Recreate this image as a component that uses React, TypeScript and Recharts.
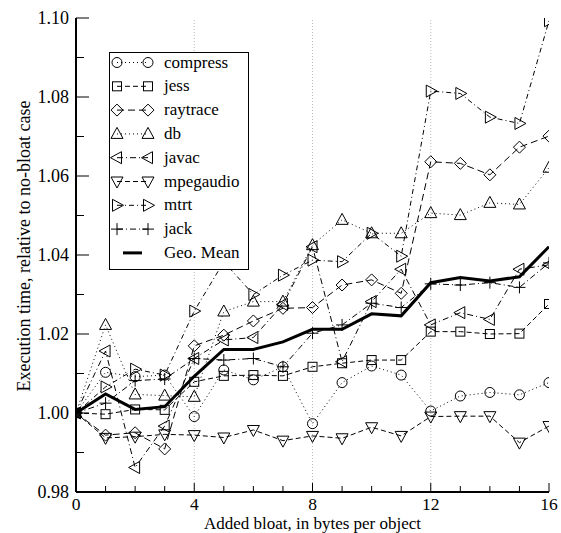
import React from 'react';
import { LineChart, Line, XAxis, YAxis, ReferenceLine } from 'recharts';

const xValues = [0, 1, 2, 3, 4, 5, 6, 7, 8, 9, 10, 11, 12, 13, 14, 15, 16];
const compress = [1.0, 1.0103, 1.0092, 1.0096, 0.9991, 1.0109, 1.0084, 1.0117, 0.9973, 1.0077, 1.0119, 1.0096, 1.0005, 1.0043, 1.0052, 1.0046, 1.0077];
const jess = [1.0, 0.9997, 1.0009, 1.0008, 1.0079, 1.0094, 1.0096, 1.0094, 1.0117, 1.0126, 1.0134, 1.0134, 1.0206, 1.0206, 1.02, 1.0201, 1.0276];
const raytrace = [1.0, 0.9944, 0.995, 0.9909, 1.017, 1.0197, 1.0233, 1.0265, 1.0267, 1.0324, 1.0337, 1.0303, 1.0636, 1.0632, 1.0603, 1.0673, 1.0701];
const db = [1.0, 1.0223, 1.0047, 1.0044, 1.0041, 1.0257, 1.0282, 1.0282, 1.0425, 1.0489, 1.0455, 1.0455, 1.0506, 1.0501, 1.0532, 1.0528, 1.0621];
const javac = [1.0, 1.0157, 0.9862, 0.9967, 1.0138, 1.0185, 1.0191, 1.0275, 1.0421, 1.013, 1.0282, 1.0364, 1.0223, 1.0254, 1.0237, 1.0364, 1.0375];
const mpegaudio = [1.0, 0.9937, 0.994, 0.9946, 0.9944, 0.9938, 0.9957, 0.993, 0.9942, 0.9936, 0.9964, 0.9942, 0.9991, 0.9992, 0.9992, 0.9925, 0.9967];
const mtrt = [1.0, 1.0066, 1.0111, 1.0096, 1.0258, 1.0383, 1.03, 1.0349, 1.0387, 1.0383, 1.0455, 1.0397, 1.0815, 1.0809, 1.0749, 1.0733, 1.0993];
const jack = [1.0, 1.0025, 1.0082, 1.0086, 1.0138, 1.0134, 1.0138, 1.0117, 1.0202, 1.0223, 1.0278, 1.0267, 1.0327, 1.0324, 1.033, 1.0318, 1.038];
const geoMean = [1.0, 1.0048, 1.0009, 1.0016, 1.0093, 1.0161, 1.0161, 1.018, 1.0212, 1.0212, 1.0251, 1.0246, 1.033, 1.0343, 1.0334, 1.0345, 1.0421];

const seriesNames = ['compress', 'jess', 'raytrace', 'db', 'javac', 'mpegaudio', 'mtrt', 'jack', 'Geo. Mean'];
const seriesValues = [compress, jess, raytrace, db, javac, mpegaudio, mtrt, jack, geoMean];

const xTicks = [0, 1, 2, 3, 4, 5, 6, 7, 8, 9, 10, 11, 12, 13, 14, 15, 16];
const xLabeledTicks = [0, 4, 8, 12, 16];
const xGridLines = [4, 8, 12];
const yTicks = [0.98, 0.99, 1.0, 1.01, 1.02, 1.03, 1.04, 1.05, 1.06, 1.07, 1.08, 1.09, 1.1];
const yLabeledTicks = ['0.98', '1.00', '1.02', '1.04', '1.06', '1.08', '1.10'];

const xTitle = 'Added bloat, in bytes per object';
const yTitle = 'Execution time, relative to no-bloat case';

const styles: Record<string, { shape: string; dash: string; width: number }> = {
  compress: { shape: 'circle', dash: '1 3', width: 1 },
  jess: { shape: 'square', dash: '5 3', width: 1 },
  raytrace: { shape: 'diamond', dash: '7 4', width: 1 },
  db: { shape: 'up', dash: '1 3', width: 1 },
  javac: { shape: 'left', dash: '6 3 1 3', width: 1 },
  mpegaudio: { shape: 'down', dash: '5 3', width: 1 },
  mtrt: { shape: 'right', dash: '5 3 1 3', width: 1 },
  jack: { shape: 'plus', dash: '6 3 1 3', width: 1 },
  'Geo. Mean': { shape: 'none', dash: '', width: 3 },
};

const data = xValues.map((x, i) => {
  const row: Record<string, number> = { x };
  seriesNames.forEach((n, k) => {
    row[n] = seriesValues[k][i];
  });
  return row;
});

const FONT = "'Liberation Serif', 'Times New Roman', 'DejaVu Serif', serif";
const textStyle = { fontFamily: FONT };

function Marker({ kind, cx, cy }: { kind: string; cx: number; cy: number }) {
  const p = { fill: 'none', stroke: '#000', strokeWidth: 1 };
  switch (kind) {
    case 'circle':
      return <circle cx={cx} cy={cy} r={5} {...p} />;
    case 'square':
      return <rect x={cx - 4.5} y={cy - 4.5} width={9} height={9} {...p} />;
    case 'diamond':
      return <polygon points={`${cx},${cy - 6} ${cx + 6},${cy} ${cx},${cy + 6} ${cx - 6},${cy}`} {...p} />;
    case 'up':
      return <polygon points={`${cx},${cy - 6.5} ${cx + 6},${cy + 4.5} ${cx - 6},${cy + 4.5}`} {...p} />;
    case 'down':
      return <polygon points={`${cx},${cy + 6.5} ${cx + 6},${cy - 4.5} ${cx - 6},${cy - 4.5}`} {...p} />;
    case 'left':
      return <polygon points={`${cx - 6.5},${cy} ${cx + 4.5},${cy - 6} ${cx + 4.5},${cy + 6}`} {...p} />;
    case 'right':
      return <polygon points={`${cx + 6.5},${cy} ${cx - 4.5},${cy - 6} ${cx - 4.5},${cy + 6}`} {...p} />;
    case 'plus':
      return <path d={`M${cx - 6},${cy}H${cx + 6}M${cx},${cy - 6}V${cy + 6}`} {...p} />;
    default:
      return null;
  }
}

const BottomTick = (props: any) => {
  const { x, y, payload } = props;
  const major = xLabeledTicks.includes(payload.value);
  return (
    <g>
      <line x1={x} y1={y} x2={x} y2={y - (major ? 9 : 6)} stroke="#000" strokeWidth={1} />
      {major && (
        <text x={x} y={y + 18} textAnchor="middle" style={textStyle} fontSize={17.5} fill="#000">
          {payload.value}
        </text>
      )}
    </g>
  );
};

const TopTick = (props: any) => {
  const { x, y, payload } = props;
  const major = xLabeledTicks.includes(payload.value);
  return <line x1={x} y1={y} x2={x} y2={y + (major ? 9 : 6)} stroke="#000" strokeWidth={1} />;
};

const LeftTick = (props: any) => {
  const { x, y, payload } = props;
  const label = Number(payload.value).toFixed(2);
  const major = yLabeledTicks.includes(label);
  return (
    <g>
      <line x1={x} y1={y} x2={x + (major ? 13 : 8)} y2={y} stroke="#000" strokeWidth={1} />
      {major && (
        <text x={x - 7} y={y + 6} textAnchor="end" style={textStyle} fontSize={18} fill="#000">
          {label}
        </text>
      )}
    </g>
  );
};

const RightTick = (props: any) => {
  const { x, y, payload } = props;
  const label = Number(payload.value).toFixed(2);
  const major = yLabeledTicks.includes(label);
  return <line x1={x} y1={y} x2={x - (major ? 13 : 8)} y2={y} stroke="#000" strokeWidth={1} />;
};

const YTitle = (props: any) => {
  const vb = props.viewBox || {};
  const cx = vb.x + 30;
  const cy = vb.y + vb.height / 2 - 9;
  return (
    <text x={cx} y={cy} transform={`rotate(-90 ${cx} ${cy})`} textAnchor="middle" style={textStyle} fontSize={18} fill="#000">
      {yTitle}
    </text>
  );
};

const XTitle = (props: any) => {
  const vb = props.viewBox || {};
  const cx = vb.x + vb.width / 2;
  const by = vb.y + vb.height - 4;
  return (
    <text x={cx} y={by} textAnchor="middle" style={textStyle} fontSize={17} fill="#000">
      {xTitle}
    </text>
  );
};

const LegendBox = () => {
  const rowH = 23.8;
  const w = 140;
  const h = 218;
  return (
    <svg width={w} height={h} style={{ display: 'block' }}>
      <rect x={0.5} y={0.5} width={w - 1} height={h - 1} fill="#fff" stroke="#000" strokeWidth={1} />
      {seriesNames.map((n, i) => {
        const cy = 10.5 + i * rowH;
        const st = styles[n];
        return (
          <g key={n}>
            {st.shape === 'none' ? (
              <line x1={14} y1={cy} x2={33} y2={cy} stroke="#000" strokeWidth={3} />
            ) : (
              <>
                <line x1={8} y1={cy} x2={39} y2={cy} stroke="#000" strokeWidth={1} strokeDasharray={st.dash} />
                <Marker kind={st.shape} cx={8} cy={cy} />
                <Marker kind={st.shape} cx={39} cy={cy} />
              </>
            )}
            <text x={55} y={cy + 5} style={textStyle} fontSize={17} fill="#000">
              {n}
            </text>
          </g>
        );
      })}
    </svg>
  );
};

export default function App() {
  return (
    <div style={{ position: 'absolute', left: 0, top: 0, width: 561, height: 533, background: '#fff' }}>
      <LineChart width={561} height={533} data={data} margin={{ top: 18, right: 12, bottom: 0, left: 0 }}>
        {xGridLines.map((g) => (
          <ReferenceLine key={g} x={g} stroke="#bbb" strokeWidth={1} strokeDasharray="1 2" />
        ))}
        <XAxis
          dataKey="x"
          type="number"
          domain={[0, 16]}
          ticks={xTicks}
          interval={0}
          height={41}
          tickSize={0}
          tickMargin={0}
          tickLine={false}
          tick={<BottomTick />}
          axisLine={{ stroke: '#000', strokeWidth: 2 }}
          allowDataOverflow
          label={<XTitle />}
        />
        <XAxis
          xAxisId="top"
          orientation="top"
          dataKey="x"
          type="number"
          domain={[0, 16]}
          ticks={xTicks}
          interval={0}
          height={0}
          tickSize={0}
          tickMargin={0}
          tickLine={false}
          tick={<TopTick />}
          axisLine={{ stroke: '#000', strokeWidth: 2 }}
          allowDataOverflow
        />
        <YAxis
          type="number"
          domain={[0.98, 1.1]}
          ticks={yTicks}
          interval={0}
          width={76}
          tickSize={0}
          tickMargin={0}
          tickLine={false}
          tick={<LeftTick />}
          axisLine={{ stroke: '#000', strokeWidth: 2 }}
          allowDataOverflow
          label={<YTitle />}
        />
        <YAxis
          yAxisId="right"
          orientation="right"
          type="number"
          domain={[0.98, 1.1]}
          ticks={yTicks}
          interval={0}
          width={0}
          tickSize={0}
          tickMargin={0}
          tickLine={false}
          tick={<RightTick />}
          axisLine={{ stroke: '#000', strokeWidth: 2 }}
          allowDataOverflow
        />
        {seriesNames.map((n) => {
          const st = styles[n];
          return (
            <Line
              key={n}
              dataKey={n}
              name={n}
              type="linear"
              stroke="#000"
              strokeWidth={st.width}
              strokeDasharray={st.dash || undefined}
              isAnimationActive={false}
              dot={
                st.shape === 'none'
                  ? false
                  : (p: any) => <Marker key={`${n}-${p.index}`} kind={st.shape} cx={p.cx} cy={p.cy} />
              }
              activeDot={false}
            />
          );
        })}
      </LineChart>
      <div style={{ position: 'absolute', left: 109, top: 52 }}>
        <LegendBox />
      </div>
    </div>
  );
}
